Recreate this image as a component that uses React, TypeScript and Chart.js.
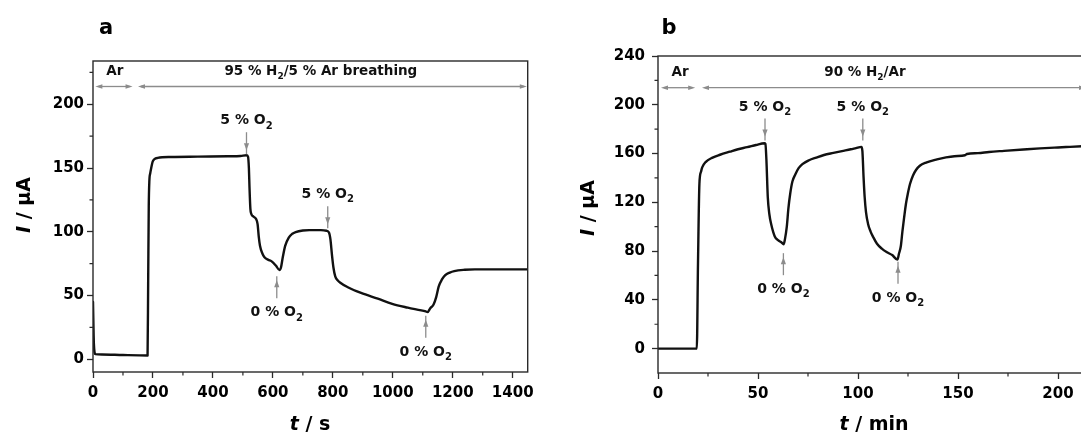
import React, { useEffect, useRef } from "react";
import { Chart, registerables } from "chart.js";
Chart.register(...registerables);

const FAMILY = '"DejaVu Sans", "Liberation Sans", sans-serif';
const INK = "#111111";
const AXIS = "#2a2a2a";
const GRAY = "#8c8c8c";

type Seg = { t: string; sub?: boolean; it?: boolean };

// ---------- Panel a : current vs time (s) ----------
const aTime = [0, 3, 8, 30, 100, 182, 184, 186, 188, 191, 195, 199, 205, 216, 262, 350, 450, 492, 512, 517, 520, 522, 525, 528, 535, 544, 549, 553, 557, 565, 572, 585, 595, 610, 622, 627, 633, 641, 653, 665, 676, 700, 722, 760, 779, 787, 792, 797, 802, 808, 816, 825, 850, 894, 950, 998, 1050, 1110, 1116, 1125, 1136, 1145, 1153, 1164, 1175, 1190, 1205, 1240, 1274, 1350, 1450];
const aCurrent = [45, 12, 4, 3.7, 3.3, 3, 60, 120, 140, 146, 151, 155, 157, 158, 158.7, 159, 159.3, 159.5, 160, 159, 150, 135, 118, 114, 112, 110, 106, 96, 89, 83, 80, 78, 77, 73.5, 70, 72, 80, 89, 95.5, 98.5, 99.8, 101, 101.3, 101.3, 100.8, 99.5, 94, 82, 72, 65, 62, 60, 56.5, 52, 47.5, 43.5, 40.5, 37.5, 37, 40, 43, 49, 57, 62.6, 66, 68, 69.2, 70.2, 70.5, 70.5, 70.5];
const aXTicks = [0, 200, 400, 600, 800, 1000, 1200, 1400];
const aXMinor = [100, 300, 500, 700, 900, 1100, 1300];
const aYTicks = [0, 50, 100, 150, 200];
const aYMinor = [25, 75, 125, 175, 225];
const aMarkerTime = [512, 783, 613, 1110];
const aMarkerTip = [164, 106, 62, 31];
const aMarkerDir = ["down", "down", "up", "up"];
const aMarkerGas = ["5 % O", "5 % O", "0 % O", "0 % O"];
const aPhaseFrom = [8, 150];
const aPhaseTo = [132, 1447];
const aPhaseLabelAt = [73, 760];
const aPhaseLabel: Seg[][] = [[{ t: "Ar" }], [{ t: "95 % H" }, { t: "2", sub: true }, { t: "/5 % Ar breathing" }]];

// ---------- Panel b : current vs time (min) ----------
const bTime = [0, 19.4, 20.0, 20.7, 21.5, 22.1, 23.8, 27.3, 31, 35.9, 40, 44.6, 49, 53.2, 53.7, 54.2, 54.9, 55.7, 56.6, 58.4, 60, 61.8, 62.8, 63.5, 64.4, 65.2, 66.1, 67.2, 68.7, 70.3, 72.2, 75.5, 79.1, 83, 87.7, 92, 96.4, 99, 101.7, 102.2, 102.8, 103.3, 104, 105, 106.3, 107.6, 109.5, 111.9, 114.5, 117.1, 119.7, 120.5, 121.4, 122.2, 123.1, 124, 124.9, 126, 127.5, 129, 130.9, 134, 139.5, 144, 148.2, 153.5, 154.5, 160, 165.5, 173, 182.7, 191, 200, 206, 212];
const bCurrent = [0, 0, 70, 135, 145, 148.6, 153, 156.7, 159, 161.5, 163.5, 165.2, 167, 168.5, 168, 155, 124, 110, 102, 92, 89, 87, 85.5, 90, 100, 115, 127, 137, 143, 148, 151.3, 154.5, 156.7, 158.8, 160.5, 162, 163.5, 164.5, 165.5, 162, 140, 125, 112, 102.5, 96, 91.5, 86, 82, 79, 76.7, 73, 78, 84, 96, 108, 119, 127, 135, 142, 146.5, 150, 152.6, 155.2, 156.8, 157.8, 158.6, 159.6, 160.3, 161.3, 162.2, 163.3, 164.2, 165, 165.5, 166];
const bXTicks = [0, 50, 100, 150, 200];
const bXMinor = [25, 75, 125, 175];
const bYTicks = [0, 40, 80, 120, 160, 200, 240];
const bYMinor = [20, 60, 100, 140, 180, 220];
const bMarkerTime = [53.5, 102.4, 62.7, 120];
const bMarkerTip = [174, 174, 75, 68];
const bMarkerDir = ["down", "down", "up", "up"];
const bMarkerGas = ["5 % O", "5 % O", "0 % O", "0 % O"];
const bPhaseFrom = [1.5, 22];
const bPhaseTo = [18.6, 214];
const bPhaseLabelAt = [11, 103.5];
const bPhaseLabel: Seg[][] = [[{ t: "Ar" }], [{ t: "90 % H" }, { t: "2", sub: true }, { t: "/Ar" }]];

interface PanelCfg {
  letter: string;
  time: number[]; current: number[];
  xMin: number; xMax: number; yMin: number; yMax: number;
  xTicks: number[]; xMinor: number[]; yTicks: number[]; yMinor: number[];
  markerTime: number[]; markerTip: number[]; markerDir: string[]; markerGas: string[];
  phaseFrom: number[]; phaseTo: number[]; phaseLabelAt: number[]; phaseLabel: Seg[][];
  phaseLevel: number; phaseTextLevel: number;
  canvasLeft: number; canvasWidth: number;
  padTop: number; padRight: number; yAxisWidth: number; xAxisHeight: number; yTickPad: number;
  letterPos: [number, number];
  xTitle: Seg[]; xTitlePos: [number, number];
  yTitle: Seg[]; yTitlePos: [number, number];
}

const panelA: PanelCfg = {
  letter: "a", time: aTime, current: aCurrent,
  xMin: 0, xMax: 1450, yMin: -10, yMax: 234,
  xTicks: aXTicks, xMinor: aXMinor, yTicks: aYTicks, yMinor: aYMinor,
  markerTime: aMarkerTime, markerTip: aMarkerTip, markerDir: aMarkerDir, markerGas: aMarkerGas,
  phaseFrom: aPhaseFrom, phaseTo: aPhaseTo, phaseLabelAt: aPhaseLabelAt, phaseLabel: aPhaseLabel,
  phaseLevel: 214, phaseTextLevel: 227,
  canvasLeft: 0, canvasWidth: 540,
  padTop: 61, padRight: 12, yAxisWidth: 93, xAxisHeight: 62, yTickPad: 3,
  letterPos: [106, 26],
  xTitle: [{ t: "t", it: true }, { t: " / s" }], xTitlePos: [310, 423],
  yTitle: [{ t: "I", it: true }, { t: " / μA" }], yTitlePos: [23, 205],
};

const panelB: PanelCfg = {
  letter: "b", time: bTime, current: bCurrent,
  xMin: 0, xMax: 212, yMin: -20, yMax: 240,
  xTicks: bXTicks, xMinor: bXMinor, yTicks: bYTicks, yMinor: bYMinor,
  markerTime: bMarkerTime, markerTip: bMarkerTip, markerDir: bMarkerDir, markerGas: bMarkerGas,
  phaseFrom: bPhaseFrom, phaseTo: bPhaseTo, phaseLabelAt: bPhaseLabelAt, phaseLabel: bPhaseLabel,
  phaseLevel: 214, phaseTextLevel: 228,
  canvasLeft: 540, canvasWidth: 560,
  padTop: 56, padRight: 18, yAxisWidth: 118, xAxisHeight: 61, yTickPad: 7,
  letterPos: [129, 26],
  xTitle: [{ t: "t", it: true }, { t: " / min" }], xTitlePos: [334, 423],
  yTitle: [{ t: "I", it: true }, { t: " / μA" }], yTitlePos: [47, 208],
};

function drawRich(ctx: CanvasRenderingContext2D, segs: Seg[], cx: number, cy: number, size: number) {
  const fontOf = (s: Seg) => `${s.it ? "italic " : ""}bold ${s.sub ? Math.round(size * 0.7) : size}px ${FAMILY}`;
  let w = 0;
  const ws = segs.map((s) => {
    ctx.font = fontOf(s);
    const m = ctx.measureText(s.t).width;
    w += m;
    return m;
  });
  let x = cx - w / 2;
  const base = cy + size * 0.365;
  ctx.textAlign = "left";
  ctx.textBaseline = "alphabetic";
  segs.forEach((s, i) => {
    ctx.font = fontOf(s);
    ctx.fillText(s.t, x, base + (s.sub ? size * 0.3 : 0));
    x += ws[i];
  });
}

function arrowHead(ctx: CanvasRenderingContext2D, tx: number, ty: number, dx: number, dy: number, len: number, half: number) {
  const bx = tx - dx * len, by = ty - dy * len;
  const nx = -dy, ny = dx;
  ctx.beginPath();
  ctx.moveTo(tx, ty);
  ctx.lineTo(bx + nx * half, by + ny * half);
  ctx.lineTo(bx - nx * half, by - ny * half);
  ctx.closePath();
  ctx.fill();
}

function makeDeco(p: PanelCfg) {
  return {
    id: "deco_" + p.letter,
    afterDraw(chart: any) {
      const ctx: CanvasRenderingContext2D = chart.ctx;
      const ca = chart.chartArea;
      const xs = chart.scales.x;
      const ys = chart.scales.y;
      ctx.save();
      // frame
      ctx.strokeStyle = AXIS;
      ctx.lineWidth = 1.4;
      ctx.strokeRect(ca.left, ca.top, ca.right - ca.left, ca.bottom - ca.top);
      // minor ticks
      ctx.lineWidth = 1.2;
      ctx.beginPath();
      p.xMinor.forEach((v) => {
        const x = xs.getPixelForValue(v);
        ctx.moveTo(x, ca.bottom);
        ctx.lineTo(x, ca.bottom + 3.5);
      });
      p.yMinor.forEach((v) => {
        const y = ys.getPixelForValue(v);
        ctx.moveTo(ca.left, y);
        ctx.lineTo(ca.left - 3.5, y);
      });
      ctx.stroke();

      // phase arrows
      ctx.strokeStyle = GRAY;
      ctx.fillStyle = GRAY;
      ctx.lineWidth = 1.3;
      const py = ys.getPixelForValue(p.phaseLevel);
      p.phaseFrom.forEach((f, i) => {
        const x1 = xs.getPixelForValue(f);
        const x2 = xs.getPixelForValue(p.phaseTo[i]);
        ctx.beginPath();
        ctx.moveTo(x1 + 3, py);
        ctx.lineTo(x2 - 3, py);
        ctx.stroke();
        arrowHead(ctx, x1, py, -1, 0, 7, 2.3);
        arrowHead(ctx, x2, py, 1, 0, 7, 2.3);
      });
      ctx.fillStyle = INK;
      const ty = ys.getPixelForValue(p.phaseTextLevel);
      p.phaseLabel.forEach((segs, i) => {
        drawRich(ctx, segs, xs.getPixelForValue(p.phaseLabelAt[i]), ty, 13.5);
      });

      // O2 markers
      p.markerTime.forEach((t, i) => {
        const x = xs.getPixelForValue(t);
        const tipY = ys.getPixelForValue(p.markerTip[i]);
        const down = p.markerDir[i] === "down";
        const s = down ? -1 : 1;
        const tailY = tipY + s * 18;
        ctx.strokeStyle = GRAY;
        ctx.fillStyle = GRAY;
        ctx.lineWidth = 1.3;
        ctx.beginPath();
        ctx.moveTo(x, tailY);
        ctx.lineTo(x, tipY - s * 4);
        ctx.stroke();
        arrowHead(ctx, x, tipY, 0, down ? 1 : -1, 7, 2.6);
        ctx.fillStyle = INK;
        drawRich(ctx, [{ t: p.markerGas[i] }, { t: "2", sub: true }], x, tailY + s * 13, 14);
      });

      // panel letter
      ctx.fillStyle = "#000";
      drawRich(ctx, [{ t: p.letter }], p.letterPos[0], p.letterPos[1], 21);

      // axis titles
      drawRich(ctx, p.xTitle, p.xTitlePos[0], p.xTitlePos[1], 19);
      ctx.save();
      ctx.translate(p.yTitlePos[0], p.yTitlePos[1]);
      ctx.rotate(-Math.PI / 2);
      drawRich(ctx, p.yTitle, 0, 0, 19);
      ctx.restore();

      ctx.restore();
    },
  };
}

function Panel({ p }: { p: PanelCfg }) {
  const ref = useRef<HTMLCanvasElement | null>(null);
  useEffect(() => {
    if (!ref.current) return;
    const points = p.time.map((t, i) => ({ x: t, y: p.current[i] }));
    const tickFont = { family: FAMILY, size: 15, weight: "bold" as const };
    const chart = new Chart(ref.current, {
      type: "line",
      data: {
        datasets: [
          {
            data: points,
            borderColor: INK,
            borderWidth: 2.4,
            pointRadius: 0,
            cubicInterpolationMode: "monotone",
            borderJoinStyle: "round",
            borderCapStyle: "round",
            fill: false,
          },
        ],
      },
      options: {
        animation: false,
        responsive: false,
        devicePixelRatio: 1,
        events: [],
        layout: { padding: { top: p.padTop, right: p.padRight, bottom: 0, left: 0 } },
        plugins: { legend: { display: false }, tooltip: { enabled: false }, title: { display: false } },
        scales: {
          x: {
            type: "linear",
            min: p.xMin,
            max: p.xMax,
            border: { display: false },
            grid: { display: true, drawOnChartArea: false, drawTicks: true, tickLength: 6, tickColor: AXIS, tickWidth: 1.3 },
            ticks: {
              autoSkip: false,
              maxRotation: 0,
              padding: 6,
              color: "#000",
              font: tickFont,
              callback: (v: any) => String(v),
            },
            afterBuildTicks: (scale: any) => {
              scale.ticks = p.xTicks.map((v) => ({ value: v }));
            },
            afterFit: (scale: any) => {
              scale.height = p.xAxisHeight;
            },
          },
          y: {
            type: "linear",
            min: p.yMin,
            max: p.yMax,
            border: { display: false },
            grid: { display: true, drawOnChartArea: false, drawTicks: true, tickLength: 6, tickColor: AXIS, tickWidth: 1.3 },
            ticks: {
              autoSkip: false,
              padding: p.yTickPad,
              color: "#000",
              font: tickFont,
              callback: (v: any) => String(v),
            },
            afterBuildTicks: (scale: any) => {
              scale.ticks = p.yTicks.map((v) => ({ value: v }));
            },
            afterFit: (scale: any) => {
              scale.width = p.yAxisWidth;
            },
          },
        },
      },
      plugins: [makeDeco(p)],
    });
    return () => chart.destroy();
  }, [p]);
  return (
    <canvas
      ref={ref}
      width={p.canvasWidth}
      height={434}
      style={{ position: "absolute", left: p.canvasLeft, top: 0, width: p.canvasWidth, height: 434, display: "block" }}
    />
  );
}

export default function App() {
  return (
    <div style={{ position: "fixed", left: 0, top: 0, width: 1081, height: 434, overflow: "hidden", background: "#fff" }}>
      <Panel p={panelA} />
      <Panel p={panelB} />
    </div>
  );
}
